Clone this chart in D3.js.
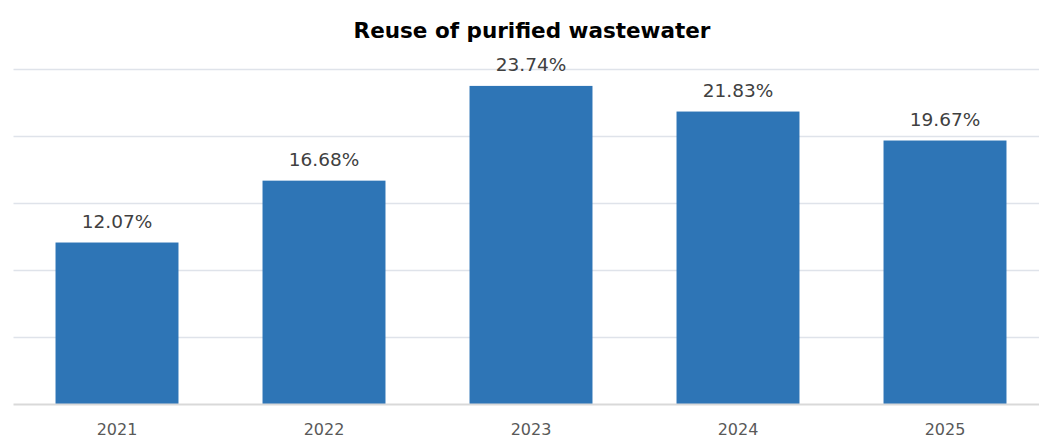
<!DOCTYPE html>
<html>
<head>
<meta charset="utf-8">
<script src="https://cdn.jsdelivr.net/npm/d3@7"></script>
<style>
  html, body { margin: 0; padding: 0; background: #ffffff; }
  svg { display: block; }
</style>
</head>
<body>
<svg id="chart" width="1039" height="437"></svg>
<script>
// Share of purified wastewater that is reused, by year
const years = ["2021", "2022", "2023", "2024", "2025"];
const reuseShare = [12.07, 16.68, 23.74, 21.83, 19.67];
const yTicks = [0, 5, 10, 15, 20, 25];
const chartTitle = "Reuse of purified wastewater";

const svg = d3.select("#chart");
const plot = { left: 13.5, right: 1048.5, top: 69, bottom: 404.5, gridRight: 1039 };
const fontFamily = "'DejaVu Sans', 'Noto Sans', sans-serif";

const x = d3.scaleBand()
  .domain(years)
  .range([plot.left, plot.right])
  .paddingInner(0.406)
  .paddingOuter(0.203);

const y = d3.scaleLinear()
  .domain([0, 25])
  .range([plot.bottom, plot.top]);

// Horizontal gridlines
svg.append("g")
  .selectAll("line")
  .data(yTicks.filter(t => t > 0))
  .join("line")
  .attr("x1", plot.left)
  .attr("x2", plot.gridRight)
  .attr("y1", d => Math.round(y(d)) + 0.5)
  .attr("y2", d => Math.round(y(d)) + 0.5)
  .attr("stroke", "#dfe3ea")
  .attr("stroke-width", 1.3);

// Bars
svg.append("g")
  .selectAll("rect")
  .data(years.map((yr, i) => ({ yr, v: reuseShare[i] })))
  .join("rect")
  .attr("x", d => x(d.yr))
  .attr("width", x.bandwidth())
  .attr("y", d => y(d.v))
  .attr("height", d => y(0) - y(d.v))
  .attr("fill", "#2e75b6");

// Baseline axis with year labels
const xAxis = d3.axisBottom(x).tickSize(0).tickPadding(0);
const gx = svg.append("g")
  .attr("transform", `translate(0,${plot.bottom})`)
  .call(xAxis);
gx.select(".domain")
  .attr("d", `M${plot.left},0H${plot.gridRight}`)
  .attr("stroke", "#d9d9d9")
  .attr("stroke-width", 2);
gx.selectAll(".tick text")
  .attr("y", 30)
  .attr("dy", 0)
  .attr("font-family", fontFamily)
  .attr("font-size", 16)
  .attr("fill", "#595959");

// Value labels above bars
svg.append("g")
  .selectAll("text")
  .data(years.map((yr, i) => ({ yr, v: reuseShare[i] })))
  .join("text")
  .attr("x", d => x(d.yr) + x.bandwidth() / 2)
  .attr("y", d => y(d.v) - 15)
  .attr("text-anchor", "middle")
  .attr("font-family", fontFamily)
  .attr("font-size", 18.5)
  .attr("fill", "#404040")
  .text(d => d.v.toFixed(2) + "%");

// Title
svg.append("text")
  .attr("x", 532)
  .attr("y", 38)
  .attr("text-anchor", "middle")
  .attr("font-family", fontFamily)
  .attr("font-weight", "bold")
  .attr("font-size", 21.5)
  .attr("fill", "#000000")
  .text(chartTitle);
</script>
</body>
</html>
